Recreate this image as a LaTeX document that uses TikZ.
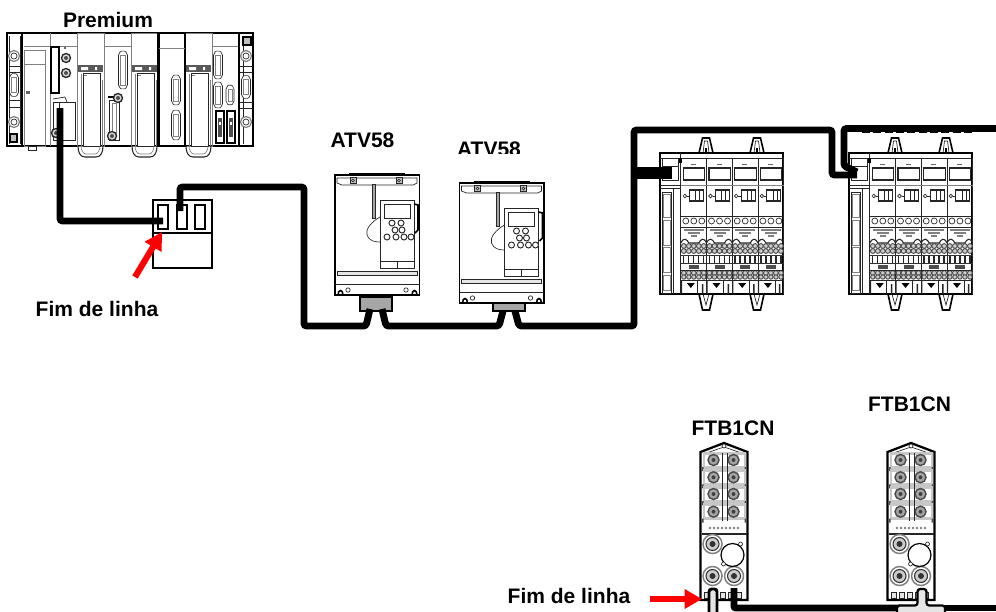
\documentclass[tikz,border=0pt]{standalone}
\usepackage{fontspec}
\setmainfont{Liberation Sans}
\usetikzlibrary{arrows.meta,calc}
\def\px{.75pt}
\newcommand{\DBconn}[4]{% x y w h
  \draw[ln,fill=white,rounded corners=1.5pt] ({#1},{#2-#4/2}) -- ({#1+#3/2},{#2-#4/2+3}) -- ({#1+#3/2},{#2+#4/2-3}) -- ({#1},{#2+#4/2}) -- ({#1-#3/2},{#2+#4/2-3}) -- ({#1-#3/2},{#2-#4/2+3}) -- cycle;
  \draw[gy] ({#1-#3/2+2},{#2-#4/2+5}) rectangle ({#1+#3/2-2},{#2+#4/2-5});}
\newcommand{\Ring}[3]{% x y r
  \draw[gy,line width=.9pt,fill=white] (#1,#2) circle[radius=#3];
  \draw[ln] (#1,#2) circle[radius=#3*.55];}
\newcommand{\DarkRing}[2]{%
  \draw[ln,line width=1pt,fill=black!15] (#1,#2) circle[radius=4.5];
  \fill[black!70] (#1,#2) circle[radius=2];}
\newcommand{\PlcCard}[1]{% x offset of a card with handle
  \begin{scope}[shift={(#1,0)}]
    \draw[gy] (0,33) rectangle (27,146);
    \fill[black!65] (1,65) rectangle (26,72);
    \fill[white] (4,67) rectangle (11,70) (18,67) rectangle (20,70);
    \draw[ln,fill=white] (6,73) -- (23,73) -- (23,146) -- (6,146) -- cycle;
    \draw[gy] (4,74) -- (4,146) (25,80) -- (25,146) (7,75) -- (10,75);
    \draw[ln,line width=.8pt] (1,146) .. controls (1,152) and (3,157) .. (8,157) -- (19,157) .. controls (24,157) and (26,152) .. (26,146);
    \draw[gy] (4,146) .. controls (4,150) and (6,154) .. (9,154) -- (18,154) .. controls (21,154) and (23,150) .. (23,146);
  \end{scope}}
\tikzset{
  ln/.style={draw=black!85,line width=.5pt},
  hv/.style={draw=black,line width=1.2pt},
  gy/.style={draw=black!50,line width=.5pt},
  cable/.style={draw=black,line width=5.2pt,rounded corners=2pt},
  cablefat/.style={draw=black,line width=9pt},
  redarrow/.style={draw=red,line width=4.6pt,-{Triangle[length=13pt,width=14pt]}},
  lab/.style={font=\fontsize{15.75pt}{18pt}\selectfont\bfseries,inner sep=0pt,text=black},
  plugbox/.style={draw=black,line width=2pt,fill=black!35,inner sep=0pt,minimum height=11pt},
  premiumrack/.pic={
    \fill[white] (7,33) rectangle (253,146);
    \draw[hv] (7,33) rectangle (253,146);
    \draw[black,line width=1.6pt] (7,33) -- (253,33);
    % left end
    \draw[hv] (22,33) -- (22,146);
    \draw[ln] (9,36) -- (9,144) (20,36) -- (20,144);
    \Ring{14}{56}{5.5} \DBconn{14}{85}{9}{25} \Ring{14}{122}{5.5}
    \draw[ln] (9,72) -- (20,72) (9,100) -- (20,100) (9,66) -- (20,66) (9,107) -- (20,107);
    \draw[hv,fill=black!25] (10,134) rectangle (17,142);
    % power
    \draw[gy] (24,50) rectangle (45,146) (24,64) -- (45,64) (24,46) -- (50,46);
    \draw[gy] (50,33) -- (50,146);
    \fill[black!60] (26,91) rectangle (30,94);
    \draw[ln] (28,146) rectangle (36,150);
    % cpu
    \draw[gy] (50,46) -- (77,46);
    \draw[hv] (51,47) rectangle (59,93);
    \DarkRing{66}{58} \DarkRing{66}{73}
    \fill[black!60] (64,47) rectangle (66,49);
    \draw[ln] (53,102) rectangle (75,140) (59,103) -- (59,140);
    \draw[ln] (53,99) -- (65,97) -- (67,102);
    \DarkRing{56}{133}
    % cards
    \PlcCard{77} \PlcCard{131} \PlcCard{185}
    % module 4
    \draw[gy] (104,46) -- (131,46);
    \DBconn{123}{70}{9}{40}
    \draw[ln] (109,100) rectangle (119,140);
    \draw[gy] (112,103) rectangle (116,135);
    \draw[hv] (108,97) -- (120,97);
    \DarkRing{112}{136}
    \DarkRing{118}{98}
    % module 6
    \draw[black,line width=1.8pt] (158.5,33) rectangle (185,146);
    \draw[gy] (159,48) -- (185,48);
    \DBconn{176}{90}{9}{32} \DBconn{176}{125}{9}{32}
    % module 8
    \draw[gy] (212,46) -- (239,46) (212,33) -- (212,146);
    \DBconn{218}{65}{9}{30} \DBconn{218}{95}{9}{28} \DBconn{230}{95}{8}{22}
    \foreach \xx in {216,227} {
      \draw[hv] (\xx,111) rectangle ({\xx+8},143);
      \fill[black!70] ({\xx+2},118) rectangle ({\xx+6},137);
      \fill[white] ({\xx+3},122) rectangle ({\xx+5},125);
    }
    % right end
    \draw[hv] (239,33) -- (239,146);
    \draw[ln] (243,36) -- (243,144);
    \draw[hv,fill=black!25] (243,37) rectangle (251,45);
    \Ring{246}{56}{5.5} \DBconn{246}{87}{9}{25} \Ring{246}{122}{5.5}
    \draw[ln] (240,72) -- (253,72) (240,102) -- (253,102) (240,66) -- (253,66) (240,108) -- (253,108);
  },
  atvdrive/.pic={
    \draw[hv,fill=white] (0,3) rectangle (84.5,123);
    \draw[hv] (14,2) -- (70,2);
    \draw[ln] (2,11) -- (2,6) -- (82,6) -- (82,11) -- (78,13) -- (7,13) -- cycle;
    \draw[ln,fill=black!25] (15,5.5) rectangle (21,11.5) (61,5.5) rectangle (67,11.5);
    \draw[ln] (18,8.5) circle[radius=1.5] (64,8.5) circle[radius=1.5];
    \draw[ln,fill=black!35] (37,12) rectangle (40,46);
    \draw[ln,line width=.7pt] (45,28) rectangle (79,96);
    \draw[ln,line width=.7pt] (49,32) rectangle (75,46);
    \draw[ln] (45,89) -- (79,89) (62,89) -- (62,96);
    \foreach \bx/\by in {57/51,66/51,60/58,67/58,52/65,61/65,69/65,76/65} {
      \draw[ln,line width=.7pt,fill=white] (\bx,\by) circle[radius=3];
    }
    \draw[ln] (45,45) .. controls (36,50) and (30,58) .. (32,63) .. controls (34,69) and (40,70) .. (45,70);
    \draw[hv] (79,32) -- (83,33) -- (83,58) -- (80,61);
    \draw[ln,fill=black!10] (2,99) rectangle (82,103);
    \draw[ln] (0,112) -- (84.5,112);
    \draw[hv] (3,123) .. controls (3,117) and (8,117) .. (8,123) (77,123) .. controls (77,117) and (82,117) .. (82,123);
    \draw[ln] (13,118) circle[radius=2.2] (71,118) circle[radius=2.2];
  },
  railmod/.pic={
    \foreach \cx in {46,97} {
      \draw[hv,fill=white] (\cx-7,0) -- (\cx-3.5,-15) -- (\cx+3.5,-15) -- (\cx+7,0);
      \draw[ln] (\cx-3,0) -- (\cx-1.5,-12) -- (\cx+1.5,-12) -- (\cx+3,0);
      \fill[black] (\cx-1,-5) rectangle (\cx+1,0);
      \draw[hv,fill=white] (\cx-7,141) -- (\cx-3.5,157) -- (\cx+3.5,157) -- (\cx+7,141);
      \draw[ln] (\cx-3,141) -- (\cx,152) -- (\cx+3,141);
    }
    \draw[hv,fill=white] (0,0) rectangle (123,141);
    \draw[ln] (0,5) -- (123,5);
    \draw[ln] (20,0) -- (20,141);
    \fill[black] (19,5) rectangle (21.5,10);
    % left module
    \draw[ln] (2,5) rectangle (18,27) (0,32) -- (21,32) (0,35) -- (21,35);
    \draw[ln] (2,13) -- (18,13);
    \draw[ln] (2,39) rectangle (11,140) (13,35) -- (13,141);
    \draw[gy] (3,41) rectangle (10,64) (3,67) rectangle (10,92) (3,94) rectangle (10,119) (3,122) rectangle (10,137);
    % columns
    \foreach \c in {0,1,2,3} {
      \begin{scope}[shift={(20.8+\c*25.7,0)}]
        \draw[ln] (25.7,5) -- (25.7,141);
        \fill[black!60] (10,10.5) rectangle (15,12);
        \draw[black!85,line width=.8pt] (2.5,15) rectangle (24,27);
        \draw[gy] (0,32) -- (25.7,32);
        \draw[ln] (4,43) circle[radius=1.8];
        \draw[black!85,line width=.8pt] (9,37) rectangle (23,48);
        \draw[ln] (15,37) -- (15,48) (19,37) -- (19,48) (6,43) -- (9,43);
        \draw[ln] (0,63) -- (25.7,63);
        \foreach \k in {5,13,21} { \draw[ln] (\k,68) circle[radius=3]; }
        \draw[ln] (0,74) -- (25.7,74);
        \draw[gy,line width=.9pt] (3,77) -- (23,77);
        \draw[gy,line width=.9pt] (7,80) -- (19,80);
        \draw[gy,line width=.9pt] (10,83) -- (16,83);
        \draw[black!85,line width=.8pt] (0,90) .. controls (3,84) and (6,86) .. (8,90) -- (18,90) .. controls (20,86) and (23,84) .. (25.7,90);
        \foreach \k in {3,8,13,18,23} {
          \draw[black!70,line width=.7pt,fill=black!20] (\k,93) circle[radius=2.4];
          \draw[black!70,line width=.7pt,fill=black!20] (\k,98) circle[radius=2.4];
          \draw[black!70,line width=.7pt,fill=black!20] (\k,120) circle[radius=2.4];
          \draw[black!70,line width=.7pt,fill=black!20] (\k,124) circle[radius=2.2];
        }
        \draw[black!80,line width=.6pt] (0,102.5) -- (25.7,102.5) (0,110) -- (25.7,110);
        \foreach \k in {2,7,12,17,22} { \fill[black!85] (\k,103) rectangle (\k+1.6,110); }
        \fill[black!70] (8,112) rectangle (18,116);
        \draw[ln] (0,117) -- (25.7,117);
        \draw[ln] (0,127) -- (25.7,127);
        \draw[ln] (17,128) -- (17,141);
        \fill[black] (6,130) -- (14,130) -- (10,135) -- cycle;
        \fill[black!85] (21,131) rectangle (22.5,141) (0,128) rectangle (1.2,141);
      \end{scope}
    }
  },
  ftbmod/.pic={
    \draw[black,line width=1.7pt,fill=white] (0,157) -- (0,9) -- (23.5,0) -- (47,9) -- (47,157) -- cycle;
    \draw[ln] (3,11) -- (23.5,4) -- (44,11);
    \draw[ln,fill=white] (23.5,3) circle[radius=2];
    \foreach \ry in {17,34.3,51,68.7} {
      \fill[black!22] (2,\ry-8.5) rectangle (45,\ry+8.5);
      \fill[white] (4,\ry-5.5) rectangle (43,\ry+5.5);
      \fill[black!70] (1.5,\ry+7) rectangle (3,\ry+11) (44,\ry+7) rectangle (45.5,\ry+11);
      \draw[black!70,line width=1.1pt,fill=black!35] (13,\ry) circle[radius=5.5];
      \draw[black!70,line width=1.1pt,fill=black!35] (33,\ry) circle[radius=5.5];
      \fill[black!75] (13,\ry) circle[radius=2] (33,\ry) circle[radius=2];
    }
    \draw[ln] (21.5,10) -- (21.5,78) (27,10) -- (27,78);
    \foreach \k in {0,...,7} { \fill[black!50] (9.5+\k*4,85) circle[radius=1.4]; }
    \draw[black!85,line width=.9pt] (1,91) -- (46,91);
    \foreach \cc/\dd in {12/101,12/133,33.5/133} {
      \draw[gy,line width=1.1pt] (\cc,\dd) circle[radius=9.5];
      \draw[black!80,line width=.8pt,fill=black!20] (\cc,\dd) circle[radius=6.5];
      \fill[black!80] (\cc,\dd) circle[radius=3];
    }
    \draw[black,line width=.9pt] (32,112) circle[radius=11.5];
    \draw[ln,fill=white] (40,101) circle[radius=2] (23,121) circle[radius=2];
    \foreach \k in {4,12,20,28,36} { \draw[ln,fill=black!10] (\k,149) rectangle (\k+5,155); }
  }
}
\begin{document}
\begin{tikzpicture}[x=.75pt,y=-.75pt]
\clip (0,0) rectangle (996,611);
\fill[white] (0,0) rectangle (996,611);

% labels
\node[lab] (lblPremium) at (108,20) {Premium};
\node[lab] (lblAtvA) at (362.5,140) {ATV58};
\begin{scope}
  \clip (440,130) rectangle (540,153);
  \node[lab] (lblAtvB) at (489,149) {ATV58};
\end{scope}
\node[lab] (lblFimA) at (97,309) {Fim de linha};
\node[lab] (lblFimB) at (569,596) {Fim de linha};
\node[lab] (lblFtbA) at (733,428) {FTB1CN};
\node[lab] (lblFtbB) at (909.5,404) {FTB1CN};

% devices
\pic {premiumrack};
\pic at (335,172) {atvdrive};
\pic at (459.5,180) {atvdrive};
\pic at (660,153) {railmod};
\pic at (849,153) {railmod};
\pic at (700.5,443) {ftbmod};
\pic at (887.5,443) {ftbmod};

% terminal block
\node[draw=black,line width=1.5pt,fill=white,minimum width=44pt,minimum height=51pt,inner sep=0pt] (term) at (182.25,234.25) {};
\draw[line width=1.1pt] (term.west |- 0,233) -- (term.east |- 0,233);
\foreach \sx in {158,177,195} { \draw[line width=1.1pt] (\sx,205) rectangle (\sx+10,229); }

% plug boxes
\node[plugbox,minimum width=24pt] (plugA) at (376,303.5) {};
\node[plugbox,minimum width=24pt,minimum height=6pt] (plugB) at (509,307) {};

% connection points
\coordinate (plcPort) at (60,108);
\coordinate (termIn) at (163,221);
\coordinate (termOut) at (180,211);
\coordinate (aIn) at (370,309);
\coordinate (aOut) at (382,309);
\coordinate (bIn) at (503,311);
\coordinate (bOut) at (515,311);
\coordinate (railA) at (672,173);
\coordinate (railB) at (857,175);
\coordinate (railBtwo) at (857,172);
\coordinate (farTop) at (996,128.5);
\coordinate (farBottom) at (996,608);

% cables
\draw[cable] (plcPort) -- (60,221) -- (termIn);
\draw[cable] (termOut) -- (180,187) -- (304,187) -- (304,326) -- (366,326) -- (aIn);
\draw[cable] (aOut) -- (386,326) -- (499,326) -- (bIn);
\draw[cable] (bOut) -- (519,326) -- (634,326) -- (634,130) -- (832,130) -- (832,175) -- (railB);
\draw[cablefat] (634,173) -- (railA);
\draw[cable] (railBtwo) -- (844,166) -- (844,128.5) -- (farTop);
\draw[black,line width=1.3pt,dash pattern=on 6pt off 2.5pt] (862,132) -- (975,132);

% lower cables
\draw[black!45,line width=.7pt] (737,606) -- (897,606);
\draw[cable,rounded corners=1.5pt] (734,588) -- (734,608) -- (900,608);
\draw[black,line width=1.7pt,fill=black!10,rounded corners=2pt] (897,613) -- (897,605.5) -- (917.5,605.5) -- (917.5,589) -- (926.5,589) -- (926.5,605.5) -- (945,605.5) -- (945,613);
\draw[cable] (945,608) -- (farBottom);
\draw[black,line width=2.2pt,fill=black!10,rounded corners=2pt] (709,613) -- (709,589) -- (717,589) -- (717,613);

% red arrows
\coordinate (redA) at (135,277);
\coordinate (redAtip) at (162,232);
\coordinate (redB) at (650,599);
\coordinate (redBtip) at (702,599);
\draw[redarrow] (redA) -- (redAtip);
\draw[redarrow] (redB) -- (redBtip);
\end{tikzpicture}
\end{document}
